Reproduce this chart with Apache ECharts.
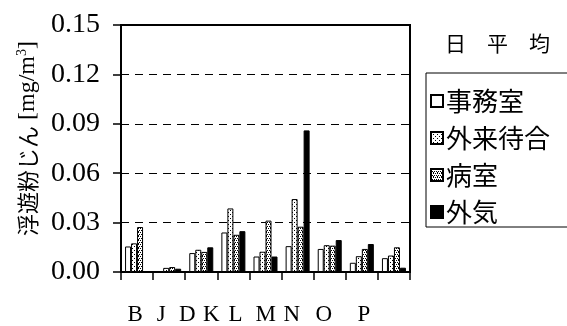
<!DOCTYPE html>
<html>
<head>
<meta charset="utf-8">
<script src="https://cdn.jsdelivr.net/npm/echarts@6/dist/echarts.min.js"></script>
<style>
html,body{margin:0;padding:0;background:#fff;}
#c{width:567px;height:326px;}
</style>
</head>
<body>
<div id="c"></div>
<script>
// ---- data ----
const categories = ['B', 'J', 'D', 'K', 'L', 'M', 'N', 'O', 'P'];
const seriesNames = ['事務室', '外来待合', '病室', '外気'];
const office  = [0.0155, 0.0005, 0.0115, 0.0240, 0.0094, 0.0157, 0.0140, 0.0056, 0.0084];
const waiting = [0.0174, 0.0025, 0.0135, 0.0386, 0.0123, 0.0443, 0.0163, 0.0096, 0.0100];
const ward    = [0.0273, 0.0030, 0.0122, 0.0226, 0.0312, 0.0275, 0.0160, 0.0140, 0.0150];
const outdoor = [null,   0.0020, 0.0150, 0.0248, 0.0094, 0.0860, 0.0194, 0.0170, 0.0026];
const yMin = 0, yMax = 0.15, yStep = 0.03;
const titleText = '日　平　均';

// ---- layout (label horizontal shifts, px) ----
const labelShift = [-2, -8, -14, -22, -30, -32, -38, -38, -30];

function makePattern(size, dots) {
  const cv = document.createElement('canvas');
  cv.width = size; cv.height = size;
  const ctx = cv.getContext('2d');
  ctx.fillStyle = '#fff';
  ctx.fillRect(0, 0, size, size);
  ctx.fillStyle = '#000';
  dots.forEach(d => ctx.fillRect(d[0], d[1], 1, 1));
  return { image: cv, repeat: 'repeat' };
}
const patWaiting = makePattern(4, [[0, 0], [2, 2]]);
const patWard = makePattern(4, [[0, 0], [2, 0], [1, 2], [3, 2], [2, 3]]);

const fills = ['#fff', patWaiting, patWard, '#000'];
const values = [office, waiting, ward, outdoor];

const xData = categories.map((c, i) => {
  const s = labelShift[i];
  return { value: c, textStyle: { padding: s < 0 ? [0, -2 * s, 0, 0] : [0, 0, 0, 2 * s] } };
});

const chart = echarts.init(document.getElementById('c'));
chart.setOption({
  animation: false,
  backgroundColor: '#fff',
  title: {
    text: titleText,
    left: 440, top: 28,
    textStyle: { fontFamily: 'Noto Sans CJK JP', fontSize: 21, fontWeight: 'normal', color: '#000' }
  },
  legend: {
    orient: 'vertical',
    left: 426, top: 73,
    padding: [15, 21, 2, 4],
    itemGap: 11,
    itemWidth: 12, itemHeight: 12,
    borderColor: '#000', borderWidth: 1,
    icon: 'rect',
    data: seriesNames,
    textStyle: { fontFamily: 'Noto Sans CJK JP', fontSize: 26, color: '#000', padding: [0, 0, 0, -2] }
  },
  grid: {
    left: 121, right: 157, top: 25, bottom: 51,
    show: true, borderColor: '#000', borderWidth: 2
  },
  xAxis: {
    type: 'category',
    data: xData,
    axisLine: { lineStyle: { color: '#000', width: 2 } },
    axisTick: { show: true, length: 8, lineStyle: { color: '#000', width: 1.5 } },
    axisLabel: { interval: 0, margin: 31, fontFamily: 'Liberation Serif', fontSize: 23, color: '#000' },
    splitLine: { show: false }
  },
  yAxis: {
    type: 'value',
    min: yMin, max: yMax, interval: yStep,
    axisLine: { show: true, lineStyle: { color: '#000', width: 2 } },
    axisTick: { show: true, length: 8, lineStyle: { color: '#000', width: 1.5 } },
    axisLabel: {
      margin: 21, fontFamily: 'Liberation Serif', fontSize: 28, color: '#000',
      formatter: v => v.toFixed(2)
    },
    splitLine: { show: true, lineStyle: { color: '#000', width: 1, type: [8, 6] } },
    name: '{a|浮遊粉じん}{b| [mg/m}{c|3}{b|]}',
    nameLocation: 'middle',
    nameRotate: 90,
    nameGap: 79,
    nameTextStyle: {
      padding: [0, 0, 0, 20],
      rich: {
        a: { fontFamily: 'Noto Sans CJK JP', fontSize: 22, color: '#000' },
        b: { fontFamily: 'Liberation Serif', fontSize: 24, color: '#000' },
        c: { fontFamily: 'Liberation Serif', fontSize: 14, color: '#000', padding: [0, 0, 12, 0] }
      }
    }
  },
  series: seriesNames.map((n, i) => ({
    name: n,
    type: 'bar',
    data: values[i],
    barWidth: 6,
    barGap: '0%',
    itemStyle: { color: fills[i], borderColor: '#000', borderWidth: 1 }
  }))
});
</script>
</body>
</html>
